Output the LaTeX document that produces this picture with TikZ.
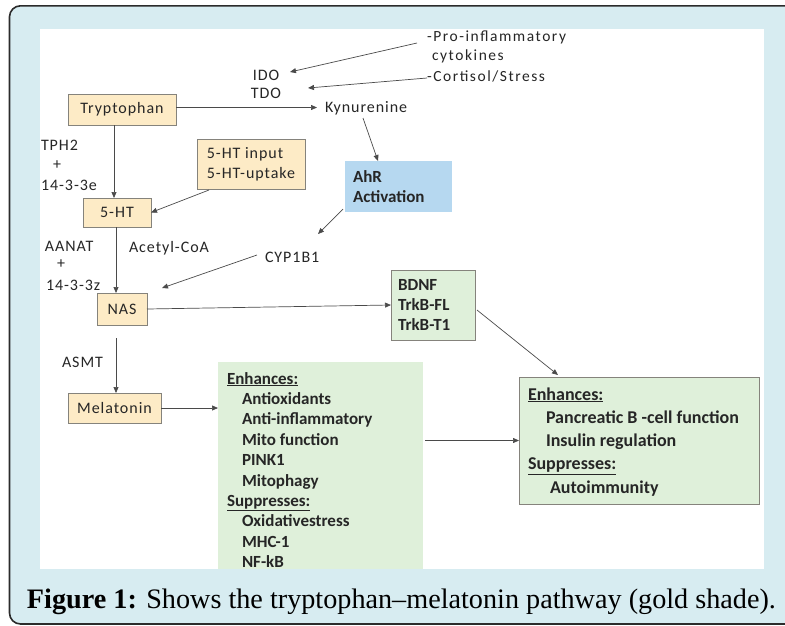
\documentclass[tikz,border=0pt]{standalone}
\usepackage{fontspec}
\setmainfont{Carlito}
\newfontfamily\spacedfont[LetterSpace=6]{Carlito}
\newfontfamily\wspacedfont[LetterSpace=10]{Carlito}
\newfontfamily\capfont[Ligatures=TeX]{Liberation Serif}
\usetikzlibrary{arrows.meta,calc}
\definecolor{bgblue}{HTML}{D7ECF1}
\definecolor{framec}{HTML}{2B2B2B}
\definecolor{gold}{HTML}{FDEBC6}
\definecolor{edgec}{HTML}{85837C}
\definecolor{greenfill}{HTML}{DFF0DA}
\definecolor{bluefill}{HTML}{B6D8F0}
\definecolor{arr}{HTML}{4A4A4A}
\definecolor{txt}{HTML}{262626}
\begin{document}
\begin{tikzpicture}[x=1pt,y=-1pt,
  every node/.style={inner sep=0pt,outer sep=0pt,text=txt},
  reg/.style={font=\spacedfont\fontsize{16}{19}\selectfont},
  regw/.style={font=\wspacedfont\fontsize{15.5}{19}\selectfont},
  bld/.style={font=\bfseries\fontsize{17}{20}\selectfont},
  bldr/.style={font=\bfseries\fontsize{18}{21}\selectfont},
  goldbox/.style={draw=edgec,fill=gold,line width=0.8pt,reg},
  greenbox/.style={draw=edgec,fill=greenfill,line width=0.8pt},
  conn/.style={draw=arr,line width=0.7pt,-{Triangle[length=6pt,width=5pt]}}
]
\useasboundingbox (0,0) rectangle (785,625);
% frame and background
\draw[draw=framec,line width=1.6pt,fill=bgblue,rounded corners=11pt] (9.5,5.8) rectangle (820,624);
\fill[white] (40,29) rectangle (764,569);

% gold boxes
\node[goldbox,minimum width=108,minimum height=31] (tryp) at (122,109.5) {Tryptophan};
\node[goldbox,minimum width=108,minimum height=50,align=left] (inp) at (251,164) {5-HT input\\[1pt]5-HT-uptake};
\node[goldbox,minimum width=68,minimum height=29] (fht) at (117,212.5) {5-HT};
\node[goldbox,minimum width=50,minimum height=32] (nas) at (122,309) {NAS};
\node[goldbox,minimum width=93,minimum height=30] (mel) at (114.5,408) {Melatonin};

% blue box
\node[fill=bluefill,minimum width=107,minimum height=51,text width=91,align=left,
      font=\bfseries\fontsize{17}{20}\selectfont] (ahr) at (398.5,186.5) {AhR\\Activation};

% BDNF box
\node[greenbox,minimum width=84,minimum height=70,text width=70,align=left,
      font=\bfseries\fontsize{17}{20}\selectfont] (bdnf) at (433,305) {BDNF\\TrkB-FL\\TrkB-T1};

% middle green panel
\node[fill=greenfill,minimum width=205,minimum height=207,anchor=north west] (mid) at (218,362) {};
\node[bld,anchor=base west] (m0) at (227,384) {\underline{Enhances:}};
\node[bld,anchor=base west] (m1) at (242,404.4) {Antioxidants};
\node[bld,anchor=base west] (m2) at (242,424.8) {Anti-inflammatory};
\node[bld,anchor=base west] (m3) at (242,445.2) {Mito function};
\node[bld,anchor=base west] (m4) at (242,465.6) {PINK1};
\node[bld,anchor=base west] (m5) at (242,486) {Mitophagy};
\node[bld,anchor=base west] (m6) at (227,506.4) {\underline{Suppresses:}};
\node[bld,anchor=base west] (m7) at (242,526.8) {Oxidativestress};
\node[bld,anchor=base west] (m8) at (242,547.2) {MHC-1};
\node[bld,anchor=base west] (m9) at (242,567.6) {NF-kB};

% right panel
\node[greenbox,minimum width=240,minimum height=127] (rbox) at (639,440.5) {};
\node[bldr,anchor=base west] (r0) at (528,400) {\underline{Enhances:}};
\node[bldr,anchor=base west] (r1) at (546,423) {Pancreatic B -cell function};
\node[bldr,anchor=base west] (r2) at (546,446.5) {Insulin regulation};
\node[bldr,anchor=base west] (r3) at (528,469.5) {\underline{Suppresses:}};
\node[bldr,anchor=base west] (r4) at (550,493) {Autoimmunity};

% plain labels
\node[reg,anchor=base] (ido) at (266,80) {IDO};
\node[reg,anchor=base] (tdo) at (266,98) {TDO};
\node[reg,anchor=base west] (kyn) at (325,112.5) {Kynurenine};
\node[regw,anchor=base west] (pro) at (427,41.5) {-Pro-inflammatory};
\node[regw,anchor=base west] (cyto) at (432,60.5) {cytokines};
\node[regw,anchor=base west] (cort) at (427,81) {-Cortisol/Stress};
\node[reg,anchor=base west] (tph) at (41,150) {TPH2};
\node[reg,anchor=base west] (plus1) at (53,169.5) {+};
\node[reg,anchor=base west] (e143) at (41,190) {14-3-3e};
\node[reg,anchor=base west] (aanat) at (45,251) {AANAT};
\node[reg,anchor=base west] (plus2) at (57,268) {+};
\node[reg,anchor=base west] (z143) at (46,290) {14-3-3z};
\node[reg,anchor=base west] (acoa) at (129,252) {Acetyl-CoA};
\node[reg,anchor=base west] (cyp) at (265,262) {CYP1B1};
\node[reg,anchor=base west] (asmt) at (62,367) {ASMT};

% free ends
\coordinate (proS) at (417,43);
\coordinate (idoT) at (290,72);
\coordinate (cortS) at (427,78);
\coordinate (tdoT) at (308,88);
\coordinate (kynS) at (363,118);
\coordinate (ahrS) at (343,209);
\coordinate (cypT) at (318,234);
\coordinate (cypS) at (257,255);
\coordinate (nasT) at (162,288);
\coordinate (asmtS) at (116,338);

% connectors
\draw[conn] (proS) -- (idoT);
\draw[conn] (cortS) -- (tdoT);
\draw[conn] (tryp.east |- 0,107.5) -- (317,107.5);
\draw[conn] (kynS) -- ($(ahr.north west)+(33,0)$);
\draw[conn] (ahrS) -- (cypT);
\draw[conn] (cypS) -- (nasT);
\draw[conn] (tryp.south -| 114,0) -- (fht.north -| 114,0);
\draw[conn] ($(inp.south west)+(12,1)$) -- (fht.east);
\draw[conn] (fht.south -| 116,0) -- (nas.north -| 116,0);
\draw[conn] (nas.east) -- (bdnf.west);
\draw[conn] (asmtS) -- (mel.north -| asmtS);
\draw[conn] (mel.east) -- (mel.east -| mid.west);
\draw[conn] ($(bdnf.east)+(2,5)$) -- ($(rbox.north west)+(39,-2)$);
\draw[conn] ($(rbox.west -| mid.east)+(2,0)$) -- (rbox.west);

% caption
\node[anchor=base west,text=black,font=\capfont\fontsize{28.2}{30}\selectfont] (cap) at (27,608)
  {\textbf{Figure 1:} Shows the tryptophan–melatonin pathway (gold shade).};
\end{tikzpicture}
\end{document}
